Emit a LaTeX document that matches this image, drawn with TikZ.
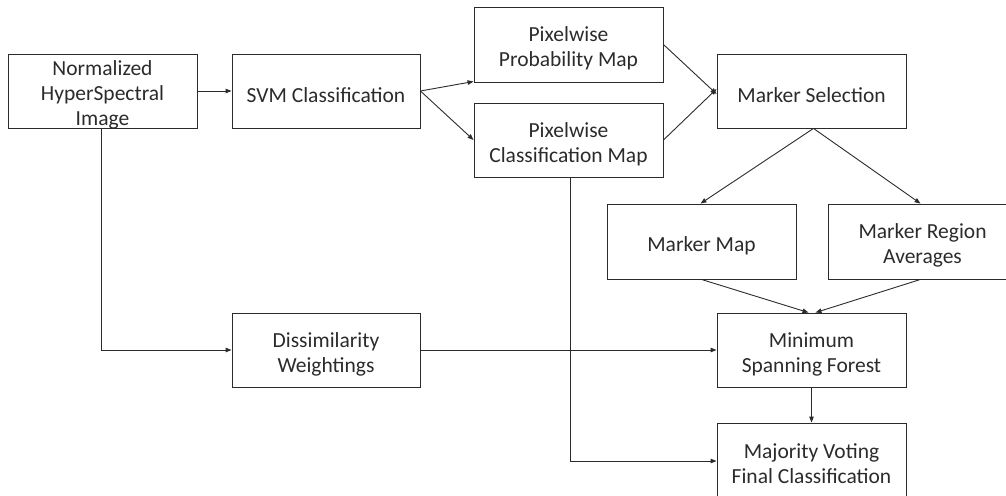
\documentclass[tikz,border=0pt]{standalone}
\usepackage{fontspec}
\setmainfont{Carlito}
\usetikzlibrary{arrows.meta}
\definecolor{ink}{HTML}{2B2B2B}
\begin{document}
\begin{tikzpicture}[x=1pt,y=-1pt,
  blk/.style={draw=ink, line width=0.9pt, inner sep=0pt},
  blktext/.style={text=ink, align=center, inner sep=0pt, yshift=-4pt,
    font=\fontsize{21.5}{25}\selectfont},
  conn/.style={draw=ink, line width=0.9pt, -{Triangle[length=6pt,width=4.5pt]}}]
\useasboundingbox (0,0) rectangle (1006,495);
\newcommand{\blkat}[6]{\node[blk, minimum width=#4-#2, minimum height=#5-#3,
  label={[blktext]center:{#6}}] (#1) at ({(#2+#4)/2},{(#3+#5)/2}) {};}
\blkat{nhsi}{8}{54}{197}{128}{Normalized\\HyperSpectral\\Image}
\blkat{svm}{232}{54}{420}{128}{SVM Classification}
\blkat{prob}{474}{7}{663}{82}{Pixelwise\\Probability Map}
\blkat{cls}{474}{103}{663}{177}{Pixelwise\\Classification Map}
\blkat{msel}{717}{54}{906}{128}{Marker Selection}
\blkat{mmap}{607}{204}{796}{279}{Marker Map}
\blkat{mra}{828}{204}{1017}{279}{Marker Region\\Averages}
\blkat{dis}{232}{313}{420}{387}{Dissimilarity\\Weightings}
\blkat{msf}{717}{313}{906}{387}{Minimum\\Spanning Forest}
\blkat{mv}{717}{423}{906}{497}{Majority Voting\\Final Classification}
\draw[conn] (nhsi.east) -- (svm.west);
\draw[conn] (svm.east) -- ([yshift=-37pt]prob.west);
\draw[conn] (svm.east) -- (cls.west);
\draw[conn] (prob.east) -- ([yshift=-3pt]msel.west);
\draw[conn] (cls.east) -- ([yshift=2pt]msel.west);
\draw[conn] ([xshift=2pt]msel.south) -- ([xshift=-1pt]mmap.north);
\draw[conn] ([xshift=2pt]msel.south) -- ([xshift=-2pt]mra.north);
\draw[conn] (mmap.south) -- ([xshift=-3pt]msf.north);
\draw[conn] ([xshift=-2pt]mra.south) -- ([xshift=4pt]msf.north);
\draw[conn] (msf.south) -- (msf.south |- mv.north);
\draw[conn] (dis.east) -- (msf.west);
\draw[conn] ([xshift=-1.5pt]nhsi.south) |- (dis.west);
\coordinate (mvin) at ([yshift=-1pt]mv.west);
\draw[conn] ([xshift=1.5pt]cls.south) |- (mvin);
\end{tikzpicture}
\end{document}
